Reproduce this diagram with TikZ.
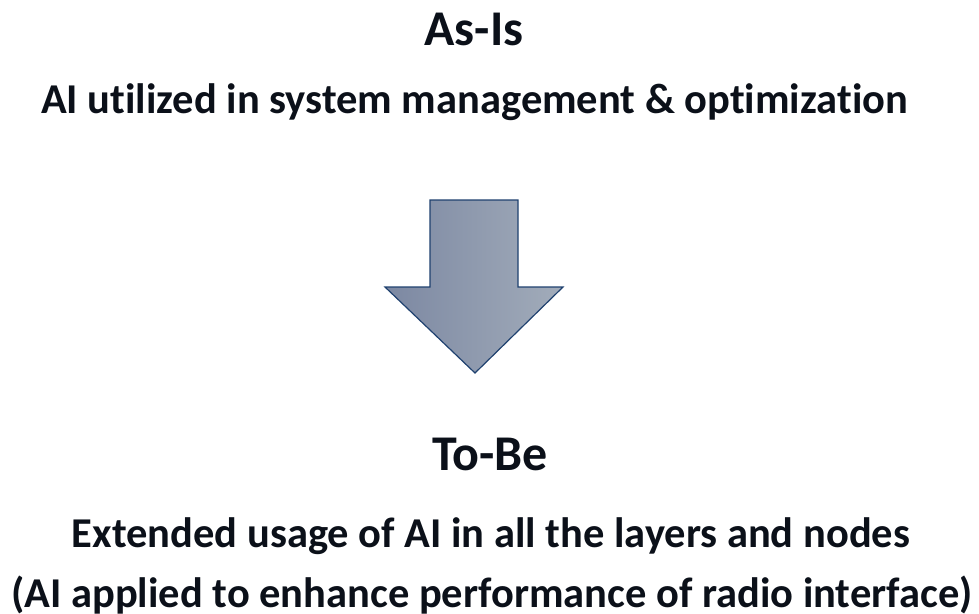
\documentclass[tikz,border=0pt]{standalone}
\usepackage{fontspec}
\setmainfont{Carlito}[Ligatures=NoCommon]
\definecolor{txt}{HTML}{0B1019}
\definecolor{arrL}{HTML}{7C88A2}
\definecolor{arrR}{HTML}{A2ACBA}
\definecolor{arrB}{HTML}{1F416F}
\begin{document}
\begin{tikzpicture}[x=1pt,y=-1pt,
  head/.style={anchor=base,text=txt,font=\fontsize{50}{52}\selectfont\bfseries,inner sep=0pt},
  body/.style={anchor=base,text=txt,font=\fontsize{42.5}{45}\selectfont\bfseries,inner sep=0pt}]
\useasboundingbox (0,0) rectangle (979,613);
\node[head] (asis) at (474,45) {As-Is};
\node[body] (asisd) at (474.5,113) {AI utilized in system management \& optimization};
\path[draw=arrB,line width=1.2pt,left color=arrL,right color=arrR,line join=miter]
  (430,200) -- (518,200) -- (518,287) -- (563,287) -- (475,373) -- (385,287) -- (430,287) -- cycle;
\node[head] (tobe) at (490,470) {To-Be};
\node[body] (tobed1) at (491,547) {Extended usage of AI in all the layers and nodes};
\node[body] (tobed2) at (492,607) {(AI applied to enhance performance of radio interface)};
\end{tikzpicture}
\end{document}
